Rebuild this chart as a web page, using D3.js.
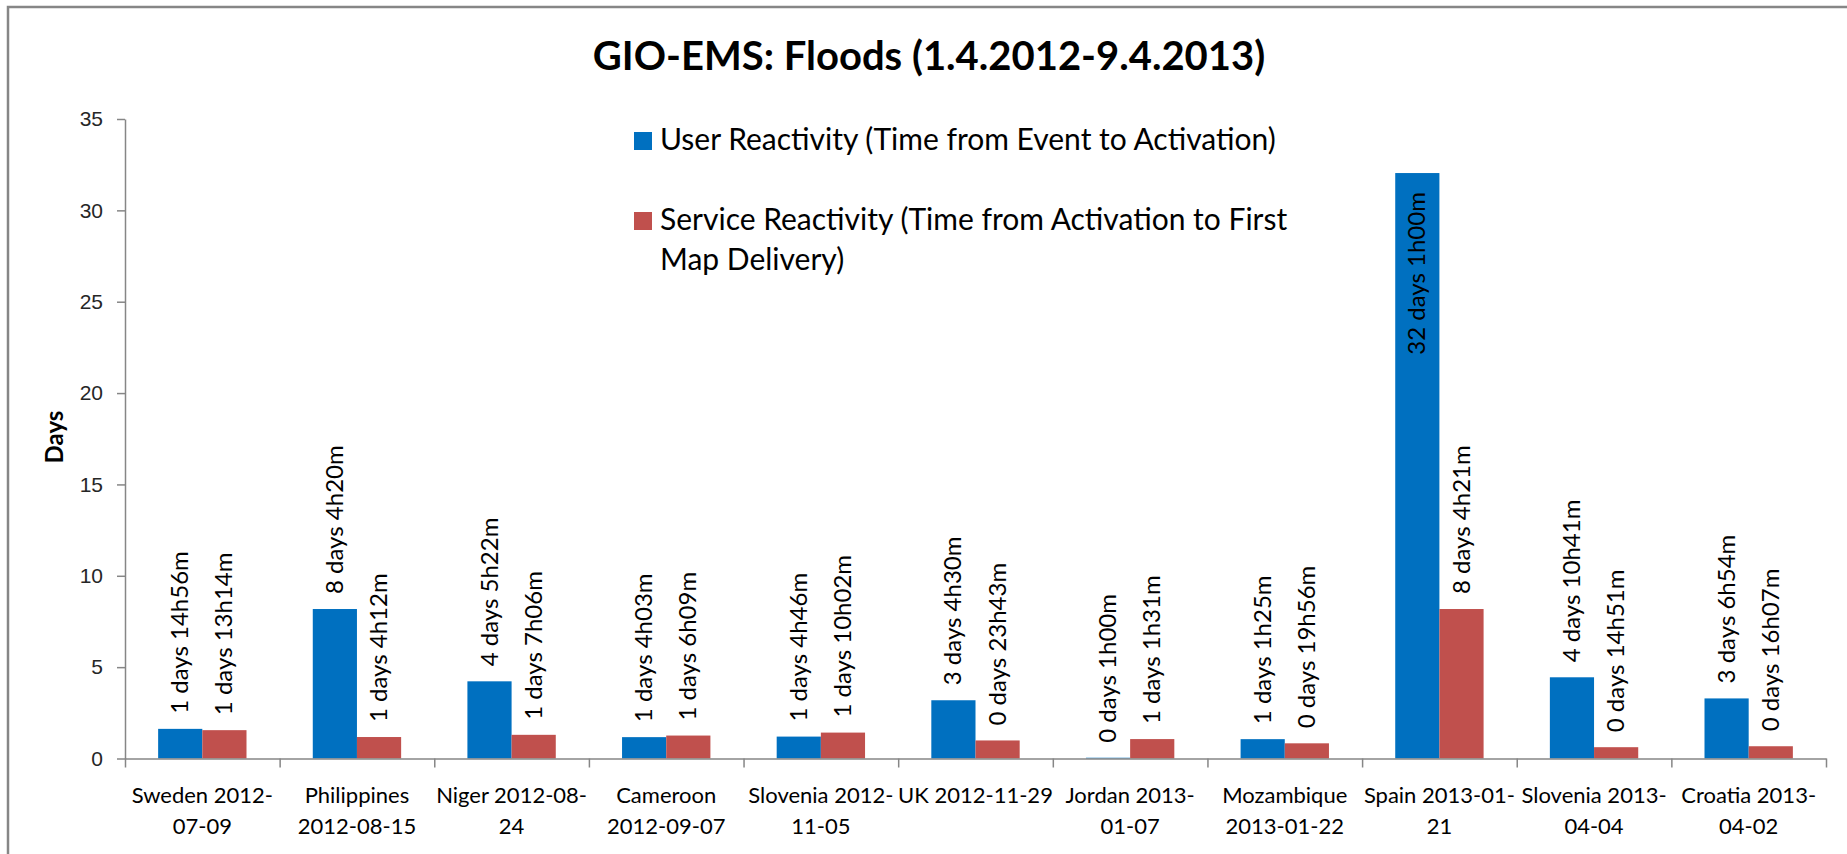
<!DOCTYPE html>
<html>
<head>
<meta charset="utf-8">
<script src="https://cdn.jsdelivr.net/npm/d3@7"></script>
<style>
  body { margin: 0; background: #fff; }
  svg { display: block; font-family: Lato, "Open Sans", sans-serif; }
  .axis path, .axis line { stroke: #868686; stroke-width: 1.5; }
  .axis text { fill: #262626; }
</style>
</head>
<body>
<div id="chart"></div>
<script>
// categories (flood events) and the way Excel wrapped their names
const categories = ["Sweden 2012-07-09", "Philippines 2012-08-15", "Niger 2012-08-24", "Cameroon 2012-09-07",
  "Slovenia 2012-11-05", "UK 2012-11-29", "Jordan 2013-01-07", "Mozambique 2013-01-22",
  "Spain 2013-01-21", "Slovenia 2013-04-04", "Croatia 2013-04-02"];
const tickLabels = [["Sweden 2012-", "07-09"], ["Philippines", "2012-08-15"], ["Niger 2012-08-", "24"],
  ["Cameroon", "2012-09-07"], ["Slovenia 2012-", "11-05"], ["UK 2012-11-29"], ["Jordan 2013-", "01-07"],
  ["Mozambique", "2013-01-22"], ["Spain 2013-01-", "21"], ["Slovenia 2013-", "04-04"], ["Croatia 2013-", "04-02"]];

const seriesNames = ["User Reactivity (Time from Event to Activation)",
  "Service Reactivity (Time from Activation to First Map Delivery)"];
const legendLines = [["User Reactivity (Time from Event to Activation)"],
  ["Service Reactivity (Time from Activation to First", "Map Delivery)"]];

// values in days
const userDays = [1.622, 8.181, 4.224, 1.169, 1.199, 3.188, 0.042, 1.059, 32.042, 4.445, 3.288];
const serviceDays = [1.551, 1.175, 1.296, 1.256, 1.418, 0.988, 1.063, 0.831, 8.181, 0.619, 0.671];
const userLabels = ["1 days 14h56m", "8 days 4h20m", "4 days 5h22m", "1 days 4h03m", "1 days 4h46m",
  "3 days 4h30m", "0 days 1h00m", "1 days 1h25m", "32 days 1h00m", "4 days 10h41m", "3 days 6h54m"];
const serviceLabels = ["1 days 13h14m", "1 days 4h12m", "1 days 7h06m", "1 days 6h09m", "1 days 10h02m",
  "0 days 23h43m", "1 days 1h31m", "0 days 19h56m", "8 days 4h21m", "0 days 14h51m", "0 days 16h07m"];
const yTicks = [0, 5, 10, 15, 20, 25, 30, 35];

const colors = ["#0070C0", "#C0504D"];

const W = 1847, H = 854;
const plot = { left: 125, right: 1826, top: 119, bottom: 758.5 };

const svg = d3.select("#chart").append("svg")
  .attr("width", W)
  .attr("height", H);

// chart frame (cropped at right and bottom in the original)
svg.append("rect")
  .attr("x", 8).attr("y", 7)
  .attr("width", W + 20).attr("height", H + 20)
  .attr("fill", "none")
  .attr("stroke", "#868686")
  .attr("stroke-width", 2.5);

// title
svg.append("text")
  .attr("x", 929)
  .attr("y", 70)
  .attr("text-anchor", "middle")
  .style("font-size", "40px")
  .style("font-weight", "bold")
  .style("fill", "#000")
  .text("GIO-EMS: Floods (1.4.2012-9.4.2013)");

const x0 = d3.scaleBand().domain(categories).range([plot.left, plot.right]).padding(0);
const x1 = d3.scaleBand().domain([0, 1]).range([0, x0.bandwidth()]).paddingInner(0).paddingOuter(0.75);
const y = d3.scaleLinear().domain([0, 35]).range([plot.bottom, plot.top]);
const xEdges = d3.scaleLinear().domain([0, categories.length]).range([plot.left, plot.right]);

// y axis
const yAxis = svg.append("g")
  .attr("class", "axis")
  .attr("transform", `translate(${plot.left},0)`)
  .call(d3.axisLeft(y).tickValues(yTicks).tickSize(8).tickSizeOuter(0).tickPadding(14));
yAxis.selectAll("text").style("font-size", "21px");

svg.append("text")
  .attr("transform", "translate(63,437) rotate(-90)")
  .attr("text-anchor", "middle")
  .style("font-size", "24px")
  .style("font-weight", "bold")
  .style("fill", "#000")
  .text("Days");

// bars
const rows = categories.map((c, i) => ({ cat: c, vals: [userDays[i], serviceDays[i]], labels: [userLabels[i], serviceLabels[i]] }));

const groups = svg.selectAll(".cat")
  .data(rows)
  .enter().append("g")
  .attr("class", "cat")
  .attr("transform", d => `translate(${x0(d.cat)},0)`);

groups.selectAll("rect")
  .data(d => d.vals.map((v, s) => ({ v, s })))
  .enter().append("rect")
  .attr("x", d => x1(d.s))
  .attr("y", d => y(d.v))
  .attr("width", x1.bandwidth())
  .attr("height", d => y(0) - y(d.v))
  .attr("fill", d => colors[d.s]);

// x axis line and category boundary ticks
svg.append("g")
  .attr("class", "axis")
  .attr("transform", `translate(0,${plot.bottom})`)
  .call(d3.axisBottom(xEdges).ticks(categories.length).tickSize(9).tickSizeOuter(0).tickFormat(""));

// category labels (two lines)
const catLabels = svg.selectAll(".cat-label")
  .data(rows)
  .enter().append("text")
  .attr("class", "cat-label")
  .attr("text-anchor", "middle")
  .style("font-size", "22px")
  .style("fill", "#000");
catLabels.selectAll("tspan")
  .data((d, i) => tickLabels[i].map(t => ({ t, cat: d.cat })))
  .enter().append("tspan")
  .attr("x", d => x0(d.cat) + x0.bandwidth() / 2)
  .attr("y", (d, j) => plot.bottom + 44 + j * 31)
  .text(d => d.t);

// data labels, rotated
groups.selectAll(".bar-label")
  .data(d => d.vals.map((v, s) => ({ v, s, label: d.labels[s] })))
  .enter().append("text")
  .attr("class", "bar-label")
  .style("font-size", "24px")
  .style("fill", "#000")
  .text(d => d.label)
  .each(function(d) {
    const len = this.getComputedTextLength();
    const cx = x1(d.s) + x1.bandwidth() / 2 + 8;
    const top = y(d.v);
    const sel = d3.select(this);
    if (top - 15 - len < plot.top) {
      sel.attr("text-anchor", "end")
         .attr("transform", `translate(${cx},${top + 19}) rotate(-90)`);
    } else {
      sel.attr("text-anchor", "start")
         .attr("transform", `translate(${cx},${top - 15}) rotate(-90)`);
    }
  });

// legend
const legend = svg.selectAll(".legend")
  .data(seriesNames)
  .enter().append("g")
  .attr("class", "legend")
  .attr("transform", (d, i) => `translate(634,${132 + i * 80})`);
legend.append("rect")
  .attr("width", 18).attr("height", 18)
  .attr("fill", (d, i) => colors[i]);
legend.append("text")
  .style("font-size", "30px")
  .style("fill", "#000")
  .selectAll("tspan")
  .data((d, i) => legendLines[i])
  .enter().append("tspan")
  .attr("x", 26)
  .attr("y", (d, j) => 18 + j * 40)
  .text(d => d);
</script>
</body>
</html>
